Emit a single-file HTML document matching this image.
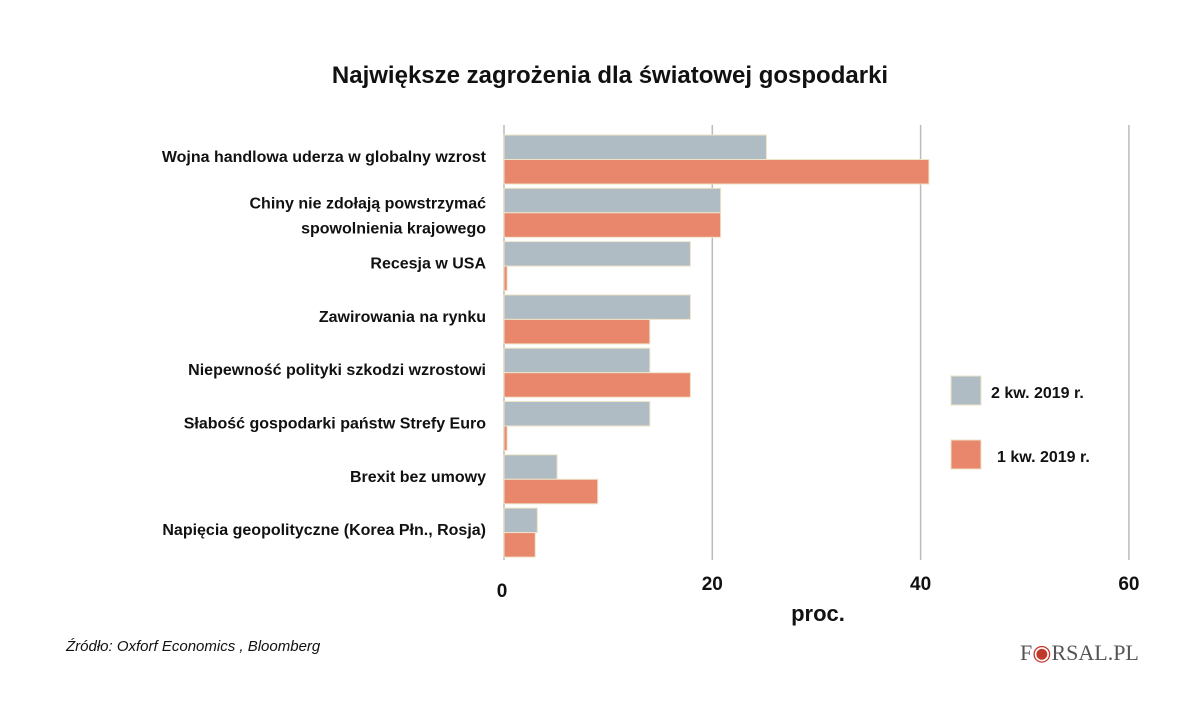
<!DOCTYPE html>
<html><head><meta charset="utf-8"><style>
body{margin:0;background:#fff;}
svg{display:block;font-family:"Liberation Sans","DejaVu Sans",sans-serif;}
</style></head><body>
<svg id="chart" width="1200" height="712">
<text x="610" y="83" text-anchor="middle" font-size="24" font-weight="bold" fill="#111">Największe zagrożenia dla światowej gospodarki</text>
<g id="grid"></g><g id="bars"></g><g id="labels"></g><g id="ticks"></g>
<text x="818" y="621" text-anchor="middle" font-size="22" font-weight="bold" fill="#111">proc.</text>
<g>
<rect x="951" y="376" width="30" height="29" fill="#b0bcc3" stroke="#efe3c8"/>
<text x="991" y="398" font-size="16" font-weight="bold" fill="#111">2 kw. 2019 r.</text>
<rect x="951" y="440" width="30" height="29" fill="#e8876b" stroke="#efe3c8"/>
<text x="997" y="462" font-size="16" font-weight="bold" fill="#111">1 kw. 2019 r.</text>
</g>
<text x="66" y="651" font-size="15" font-style="italic" fill="#111">Źródło: Oxforf Economics  , Bloomberg</text>
<text x="1020" y="660" font-size="22" font-family="Liberation Serif,serif" fill="#555">F<tspan fill="#c0392b">◉</tspan>RSAL.PL</text>
</svg>
<script>
const categories=["Wojna handlowa uderza w globalny wzrost",["Chiny nie zdołają powstrzymać","spowolnienia krajowego"],"Recesja w USA","Zawirowania na rynku","Niepewność polityki szkodzi wzrostowi","Słabość gospodarki państw Strefy Euro","Brexit bez umowy","Napięcia geopolityczne (Korea Płn., Rosja)"];
const q2Values=[25.2,20.8,17.9,17.9,14,14,5.1,3.2];
const q1Values=[40.8,20.8,0.3,14,17.9,0.3,9,3];
const tickValues=[0,20,40,60];
const NS="http://www.w3.org/2000/svg";
const x0=504,pxPerUnit=10.415,gTop=135,pitch=53.3,barH=24.5;
const xs=v=>x0+v*pxPerUnit;
function mk(t,a,p){const e=document.createElementNS(NS,t);for(const k in a)e.setAttribute(k,a[k]);p.appendChild(e);return e;}
const grid=document.getElementById('grid'),bars=document.getElementById('bars'),labels=document.getElementById('labels'),ticks=document.getElementById('ticks');
tickValues.forEach(v=>{
 const l=mk('line',{x1:xs(v),x2:xs(v),y1:125,y2:560,stroke:'#bbb','stroke-width':1.5},grid);
 
 
 const t=mk('text',{x:xs(v)+(v===0?-2:0),y:v===0?597:590,'text-anchor':'middle','font-size':19,'font-weight':'bold',fill:'#111'},ticks);
 t.textContent=v;
 
 
});
categories.forEach((c,i)=>{
 const y=gTop+i*pitch;
 const b1=mk('rect',{x:x0,y:y,width:Math.max(0,xs(q2Values[i])-x0),height:barH,fill:'#b0bcc3',stroke:'#efe3c8','stroke-width':1},bars);
 
 
 const b2=mk('rect',{x:x0,y:y+barH,width:Math.max(0,xs(q1Values[i])-x0),height:barH,fill:'#e8876b',stroke:'#efe3c8','stroke-width':1},bars);
 
 
 const lines=Array.isArray(c)?c:[c];
 const t=mk('text',{x:486,'text-anchor':'end','font-size':16,'font-weight':'bold',fill:'#111'},labels);
 
 
 lines.forEach((s,j)=>{const ts=mk('tspan',{x:486,y:(lines.length>1?y+20+j*25:y+27)},t);ts.textContent=s;});
});
</script>
</body></html>
